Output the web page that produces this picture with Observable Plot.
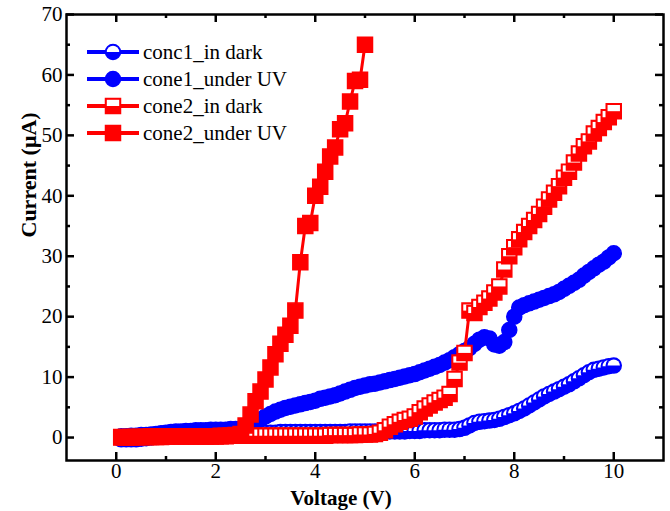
<!DOCTYPE html>
<html><head><meta charset="utf-8">
<script src="https://cdn.jsdelivr.net/npm/d3@7"></script>
<script src="https://cdn.jsdelivr.net/npm/@observablehq/plot@0.6"></script>
<style>body{margin:0;background:#fff;} svg{display:block}</style>
</head><body><div id="chart"></div>
<script>
// Voltage sweep (V)
const voltage = [0.1,0.2,0.3,0.4,0.5,0.6,0.7,0.8,0.9,1.0,1.1,1.2,1.3,1.4,1.5,1.6,1.7,1.8,1.9,2.0,
2.1,2.2,2.3,2.4,2.5,2.6,2.7,2.8,2.9,3.0,3.1,3.2,3.3,3.4,3.5,3.6,3.7,3.8,3.9,4.0,
4.1,4.2,4.3,4.4,4.5,4.6,4.7,4.8,4.9,5.0,5.1,5.2,5.3,5.4,5.5,5.6,5.7,5.8,5.9,6.0,
6.1,6.2,6.3,6.4,6.5,6.6,6.7,6.8,6.9,7.0,7.1,7.2,7.3,7.4,7.5,7.6,7.7,7.8,7.9,8.0,
8.1,8.2,8.3,8.4,8.5,8.6,8.7,8.8,8.9,9.0,9.1,9.2,9.3,9.4,9.5,9.6,9.7,9.8,9.9,10.0];

// Currents (µA)
const cone1Dark = [
-0.3,-0.3,-0.3,-0.3,-0.2,-0.1,0.0,0.1,0.2,0.3,
0.3,0.4,0.4,0.5,0.5,0.5,0.6,0.6,0.6,0.7,
0.7,0.7,0.8,0.8,0.8,0.8,0.8,0.8,0.8,0.8,
0.8,0.8,0.9,0.9,0.9,0.9,0.9,0.9,0.9,0.9,
0.9,0.9,0.9,0.9,0.9,0.9,1.0,1.0,1.0,1.0,
1.0,1.0,1.0,1.0,1.0,1.0,1.0,1.0,1.1,1.1,
1.1,1.2,1.2,1.2,1.2,1.3,1.3,1.3,1.4,1.6,
2.0,2.4,2.6,2.7,2.8,2.9,3.1,3.4,3.7,4.0,
4.4,4.8,5.3,5.8,6.3,6.8,7.2,7.6,8.0,8.4,
8.8,9.3,9.8,10.3,10.8,11.2,11.4,11.6,11.8,11.9];

const cone1UV = [
0.2,0.2,0.3,0.3,0.4,0.4,0.5,0.6,0.7,0.8,
0.9,1.0,1.0,1.1,1.1,1.2,1.2,1.2,1.3,1.3,
1.3,1.3,1.4,1.4,1.4,1.5,1.8,2.4,3.0,3.5,
3.9,4.3,4.6,4.9,5.1,5.3,5.5,5.7,5.9,6.1,
6.4,6.6,6.8,7.0,7.3,7.6,7.9,8.2,8.4,8.6,
8.8,8.9,9.1,9.3,9.5,9.7,9.9,10.1,10.3,10.5,
10.8,11.1,11.4,11.7,12.0,12.4,12.8,13.3,13.8,14.3,
14.8,15.5,16.2,16.6,16.4,15.4,15.2,15.8,17.8,20.0,
21.5,21.9,22.2,22.5,22.8,23.1,23.4,23.7,24.1,24.6,
25.1,25.6,26.1,26.8,27.4,28.0,28.6,29.1,29.8,30.5];

const cone2Dark = [
0.0,0.0,0.0,0.1,0.1,0.1,0.1,0.1,0.1,0.2,
0.2,0.2,0.2,0.2,0.2,0.2,0.2,0.2,0.2,0.2,
0.2,0.2,0.3,0.3,0.3,0.3,0.3,0.3,0.3,0.3,
0.3,0.3,0.3,0.3,0.3,0.3,0.3,0.3,0.3,0.3,
0.3,0.3,0.4,0.4,0.4,0.4,0.4,0.4,0.5,0.5,
0.5,0.6,0.8,1.2,1.8,2.2,2.6,2.9,3.1,3.5,
4.2,4.8,5.3,5.8,6.2,6.6,7.2,9.7,12.4,14.0,
21.0,20.6,21.6,22.3,23.0,24.0,25.0,27.8,30.0,31.5,
32.8,34.0,35.0,36.0,37.0,38.2,39.4,40.5,41.6,43.0,
44.0,45.5,47.0,48.2,49.0,50.3,51.2,52.2,53.0,54.0];

const cone2UV = [
0.1,0.1,0.1,0.1,0.1,0.1,0.2,0.2,0.2,0.2,
0.2,0.2,0.2,0.2,0.2,0.2,0.2,0.2,0.2,0.2,
0.3,0.3,0.3,0.4,0.6,2.0,3.8,6.0,7.6,9.6,
11.6,13.8,15.5,17.0,18.5,21.0,29.0,35.0,35.5,40.0,
41.5,44.0,46.5,48.0,51.0,52.0,55.6,59.0,59.2,65.0];

const seriesNames = ["conc1_in dark", "cone1_under UV", "cone2_in dark", "cone2_under UV"];
const xMajor = [0, 2, 4, 6, 8, 10];
const xMinor = [1, 3, 5, 7, 9];
const yMajor = [0, 10, 20, 30, 40, 50, 60, 70];
const yMinor = [5, 15, 25, 35, 45, 55, 65];

// ---- symbols ----
const circleFull = {draw(ctx, size){ const r = Math.sqrt(size/Math.PI); ctx.moveTo(r,0); ctx.arc(0,0,r,0,2*Math.PI); ctx.closePath(); }};
const circleHalf = {draw(ctx, size){ const r = Math.sqrt(size/Math.PI) - 1.3; ctx.moveTo(-r,0); ctx.arc(0,0,r,Math.PI,2*Math.PI); ctx.closePath(); }};
const squareFull = {draw(ctx, size){ const r = Math.sqrt(size/Math.PI); ctx.rect(-r,-r,2*r,2*r); }};
const squareHalf = {draw(ctx, size){ const r = Math.sqrt(size/Math.PI) - 1.3; ctx.rect(-r,-r,2*r,r); }};

const BLUE = "#0000ff", RED = "#ff0000";
const series = [
  {name: seriesNames[0], values: cone1Dark, color: BLUE, full: circleFull, half: circleHalf, r: 7.5},
  {name: seriesNames[1], values: cone1UV,   color: BLUE, full: circleFull, half: null,       r: 7.5},
  {name: seriesNames[2], values: cone2Dark, color: RED,  full: squareFull, half: squareHalf, r: 7.5},
  {name: seriesNames[3], values: cone2UV,   color: RED,  full: squareFull, half: null,       r: 7.5}
];

const W = 670, H = 511, mL = 66, mR = 7, mT = 14, mB = 51;
const FW = W - mL - mR, FH = H - mT - mB;
const FONT = "'Liberation Serif', 'Times New Roman', serif";

const marks = [];
for (const s of series) {
  const rows = s.values.map((c, i) => ({V: voltage[i], I: c}));
  marks.push(Plot.line(rows, {x: "V", y: "I", stroke: s.color, strokeWidth: 3}));
  const pts = rows.flatMap(d => s.half
    ? [{...d, sym: s.full, f: s.color, st: s.color}, {...d, sym: s.half, f: "white", st: "none"}]
    : [{...d, sym: s.full, f: s.color, st: s.color}]);
  marks.push(Plot.dot(pts, {x: "V", y: "I", symbol: "sym", fill: "f", stroke: "st", r: s.r, strokeWidth: 1.5}));
}

const tickStyle = {stroke: "black", strokeWidth: 2.5};
marks.push(
  Plot.ruleX(xMajor, {...tickStyle, insetTop: FH - 8}),
  Plot.ruleX(xMinor, {...tickStyle, insetTop: FH - 4}),
  Plot.ruleX(xMajor, {...tickStyle, insetBottom: FH - 8}),
  Plot.ruleX(xMinor, {...tickStyle, insetBottom: FH - 4}),
  Plot.ruleY(yMajor, {...tickStyle, insetRight: FW - 8}),
  Plot.ruleY(yMinor, {...tickStyle, insetRight: FW - 4}),
  Plot.ruleY(yMajor, {...tickStyle, insetLeft: FW - 8}),
  Plot.ruleY(yMinor, {...tickStyle, insetLeft: FW - 4}),
  Plot.frame({stroke: "black", strokeWidth: 2.5}),
  Plot.text(["Voltage (V)"], {frameAnchor: "bottom", dx: -24, dy: 44, fontWeight: "bold", fontSize: 21, fill: "black"}),
  Plot.text(["Current (μA)"], {frameAnchor: "left", dx: -38, rotate: -90, fontWeight: "bold", fontSize: 22, fill: "black"})
);

const plot = Plot.plot({
  width: W, height: H,
  marginLeft: mL, marginRight: mR, marginTop: mT, marginBottom: mB,
  style: {fontFamily: FONT, fontSize: "21px", color: "black", background: "white", overflow: "visible"},
  x: {domain: [-1, 11], ticks: xMajor, tickSize: 0, tickPadding: 3, label: null},
  y: {domain: [-3.8, 70], ticks: yMajor, tickSize: 0, tickPadding: 4, label: null},
  marks
});
document.getElementById("chart").appendChild(plot);

// ---- legend (inside plot, top-left) ----
const svg = d3.select(plot);
const lg = svg.append("g").attr("font-family", FONT).attr("font-size", 21).attr("text-anchor", "start");
const legendY = [52, 79, 106, 133];
series.forEach((s, i) => {
  const y = legendY[i];
  lg.append("line").attr("x1", 87).attr("x2", 139).attr("y1", y).attr("y2", y)
    .attr("stroke", s.color).attr("stroke-width", 4);
  const size = s.r * s.r * Math.PI;
  lg.append("path").attr("transform", `translate(113,${y})`).attr("d", d3.symbol(s.full, size)())
    .attr("fill", s.color).attr("stroke", s.color).attr("stroke-width", 1.5);
  if (s.half) lg.append("path").attr("transform", `translate(113,${y})`).attr("d", d3.symbol(s.half, size)())
    .attr("fill", "white");
  lg.append("text").attr("x", 143).attr("y", y).attr("dy", "0.33em").attr("text-anchor", "start")
    .attr("fill", "black").text(s.name);
});
</script></body></html>
